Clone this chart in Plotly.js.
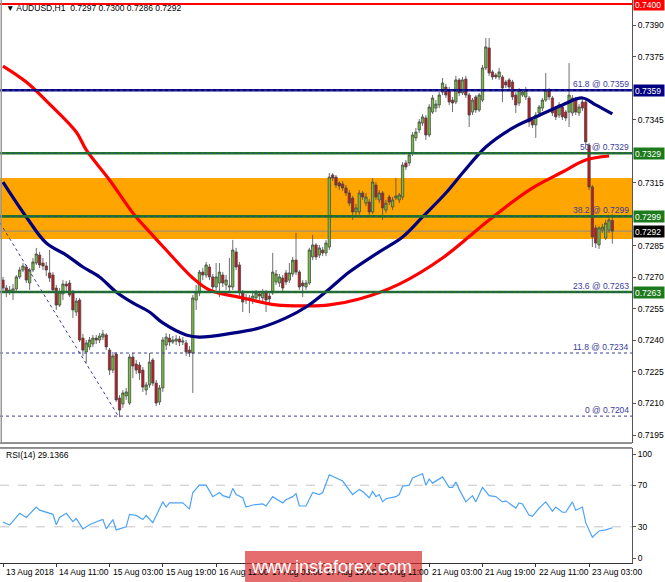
<!DOCTYPE html>
<html><head><meta charset="utf-8">
<script src="https://cdn.plot.ly/plotly-3.0.1.min.js"></script>
<style>html,body{margin:0;padding:0;background:#fff;}#chart{width:665px;height:582px;}</style>
</head><body><div id="chart"></div>
<script>
// ---- Data (AUDUSD H1, 13 Aug 19:00 .. 23 Aug 10:00) ----
const tickIdx  = [0,16,32,48,64,80,96,112,128,144,160,176];
const tickText = ["13 Aug 2018","14 Aug 11:00","15 Aug 03:00","15 Aug 19:00","16 Aug 11:00","17 Aug 03:00","17 Aug 19:00","20 Aug 11:00","21 Aug 03:00","21 Aug 19:00","22 Aug 11:00","23 Aug 03:00"];

const open = [0.72687,0.72649,0.72630,0.72630,0.72645,0.72702,0.72735,0.72749,0.72673,0.72735,0.72768,0.72806,0.72768,0.72754,0.72721,0.72711,0.72649,0.72568,0.72621,0.72668,
0.72673,0.72626,0.72535,0.72592,0.72411,0.72345,0.72369,0.72383,0.72411,0.72402,0.72416,0.72426,0.72354,0.72259,0.72335,0.72126,0.72098,0.72136,0.72102,0.72321,
0.72288,0.72283,0.72259,0.72164,0.72188,0.72307,0.72197,0.72107,0.72174,0.72378,0.72411,0.72392,0.72397,0.72407,0.72392,0.72388,0.72354,0.72340,0.72592,0.72626,
0.72725,0.72711,0.72749,0.72702,0.72654,0.72673,0.72711,0.72664,0.72654,0.72654,0.72821,0.72759,0.72626,0.72592,0.72602,0.72592,0.72602,0.72621,0.72602,0.72626,
0.72611,0.72626,0.72678,0.72673,0.72697,0.72721,0.72687,0.72716,0.72782,0.72725,0.72673,0.72654,0.72673,0.72797,0.72854,0.72806,0.72830,0.72816,0.72844,0.73187,
0.73177,0.73149,0.73144,0.73125,0.73101,0.73077,0.73011,0.73011,0.73101,0.73053,0.73058,0.73011,0.73139,0.73068,0.73101,0.73020,0.73082,0.73035,0.73077,0.73068,
0.73082,0.73244,0.73244,0.73291,0.73363,0.73401,0.73434,0.73458,0.73377,0.73486,0.73505,0.73520,0.73581,0.73605,0.73591,0.73543,0.73534,0.73639,0.73577,0.73643,
0.73567,0.73486,0.73558,0.73496,0.73543,0.73696,0.73791,0.73677,0.73662,0.73653,0.73653,0.73629,0.73639,0.73629,0.73567,0.73529,0.73567,0.73558,0.73553,0.73448,
0.73425,0.73482,0.73505,0.73543,0.73591,0.73553,0.73505,0.73472,0.73510,0.73486,0.73486,0.73482,0.73543,0.73482,0.73534,0.73534,0.73329,0.73130,0.72935,0.72854,
0.72925,0.72887,0.72925,0.72970];
const high = [0.72702,0.72664,0.72659,0.72668,0.72711,0.72749,0.72768,0.72759,0.72744,0.72792,0.72840,0.72821,0.72792,0.72773,0.72830,0.72725,0.72664,0.72649,0.72687,0.72683,
0.72687,0.72640,0.72602,0.72602,0.72431,0.72402,0.72416,0.72426,0.72426,0.72435,0.72450,0.72435,0.72364,0.72345,0.72345,0.72140,0.72164,0.72174,0.72335,0.72340,
0.72307,0.72297,0.72274,0.72202,0.72340,0.72316,0.72212,0.72188,0.72416,0.72435,0.72431,0.72421,0.72426,0.72421,0.72416,0.72402,0.72373,0.72616,0.72664,0.72735,
0.72744,0.72773,0.72763,0.72716,0.72768,0.72768,0.72725,0.72711,0.72792,0.72878,0.72840,0.72773,0.72640,0.72621,0.72616,0.72626,0.72640,0.72635,0.72645,0.72640,
0.72630,0.72816,0.72735,0.72716,0.72711,0.72735,0.72768,0.72797,0.72911,0.72735,0.72687,0.72687,0.72840,0.72901,0.72863,0.72854,0.72844,0.72878,0.73196,0.73196,
0.73187,0.73158,0.73158,0.73139,0.73115,0.73087,0.73049,0.73115,0.73111,0.73101,0.73073,0.73172,0.73153,0.73115,0.73111,0.73068,0.73092,0.73082,0.73172,0.73101,
0.73248,0.73258,0.73296,0.73391,0.73410,0.73453,0.73477,0.73472,0.73524,0.73567,0.73543,0.73581,0.73648,0.73620,0.73605,0.73558,0.73658,0.73648,0.73653,0.73658,
0.73577,0.73553,0.73567,0.73577,0.73710,0.73838,0.73838,0.73686,0.73672,0.73696,0.73662,0.73639,0.73648,0.73639,0.73581,0.73600,0.73591,0.73605,0.73562,0.73458,
0.73486,0.73520,0.73553,0.73672,0.73600,0.73562,0.73515,0.73534,0.73524,0.73496,0.73719,0.73567,0.73558,0.73524,0.73548,0.73543,0.73339,0.73139,0.72949,0.72944,
0.72954,0.72973,0.72997,0.73000];
const low = [0.72630,0.72606,0.72616,0.72592,0.72635,0.72692,0.72725,0.72673,0.72640,0.72725,0.72759,0.72744,0.72735,0.72706,0.72678,0.72626,0.72545,0.72559,0.72592,0.72635,
0.72606,0.72507,0.72516,0.72392,0.72326,0.72293,0.72354,0.72369,0.72383,0.72388,0.72402,0.72354,0.72236,0.72245,0.72107,0.72036,0.72079,0.72117,0.72093,0.72221,
0.72240,0.72212,0.72155,0.72140,0.72174,0.72183,0.72088,0.72093,0.72155,0.72354,0.72373,0.72383,0.72378,0.72373,0.72378,0.72326,0.72321,0.72150,0.72545,0.72611,
0.72687,0.72697,0.72687,0.72630,0.72640,0.72606,0.72654,0.72640,0.72630,0.72640,0.72735,0.72611,0.72535,0.72573,0.72530,0.72573,0.72592,0.72592,0.72587,0.72535,
0.72578,0.72616,0.72664,0.72654,0.72635,0.72664,0.72673,0.72702,0.72711,0.72640,0.72606,0.72640,0.72664,0.72782,0.72782,0.72792,0.72801,0.72801,0.72830,0.73158,
0.73125,0.73115,0.73111,0.73087,0.73039,0.72973,0.72997,0.72997,0.73068,0.73039,0.72997,0.73001,0.73068,0.73053,0.72973,0.73006,0.73044,0.73020,0.73068,0.73053,
0.73068,0.73211,0.73230,0.73277,0.73348,0.73386,0.73420,0.73353,0.73367,0.73477,0.73486,0.73505,0.73567,0.73553,0.73520,0.73486,0.73524,0.73562,0.73567,0.73553,
0.73415,0.73472,0.73482,0.73486,0.73534,0.73686,0.73658,0.73639,0.73643,0.73639,0.73534,0.73600,0.73591,0.73543,0.73482,0.73515,0.73558,0.73543,0.73415,0.73410,
0.73363,0.73467,0.73491,0.73534,0.73543,0.73467,0.73448,0.73458,0.73448,0.73444,0.73415,0.73467,0.73472,0.73467,0.73491,0.73329,0.73115,0.72844,0.72840,0.72835,
0.72911,0.72878,0.72911,0.72860];
const close = [0.72649,0.72630,0.72640,0.72645,0.72702,0.72735,0.72754,0.72687,0.72735,0.72773,0.72811,0.72759,0.72754,0.72735,0.72697,0.72640,0.72568,0.72630,0.72668,0.72659,
0.72616,0.72545,0.72587,0.72402,0.72354,0.72388,0.72402,0.72411,0.72402,0.72421,0.72431,0.72369,0.72259,0.72326,0.72117,0.72069,0.72150,0.72155,0.72321,0.72278,
0.72259,0.72245,0.72178,0.72188,0.72297,0.72197,0.72102,0.72174,0.72402,0.72416,0.72392,0.72402,0.72407,0.72392,0.72397,0.72345,0.72340,0.72602,0.72630,0.72725,
0.72711,0.72759,0.72702,0.72654,0.72702,0.72725,0.72673,0.72687,0.72659,0.72830,0.72749,0.72626,0.72583,0.72602,0.72592,0.72611,0.72626,0.72611,0.72630,0.72592,
0.72597,0.72725,0.72716,0.72702,0.72649,0.72678,0.72721,0.72782,0.72725,0.72654,0.72659,0.72673,0.72830,0.72854,0.72797,0.72840,0.72816,0.72863,0.73177,0.73172,
0.73139,0.73134,0.73125,0.73101,0.73053,0.73011,0.73030,0.73101,0.73082,0.73082,0.73011,0.73153,0.73082,0.73101,0.73030,0.73053,0.73058,0.73068,0.73087,0.73092,
0.73234,0.73225,0.73282,0.73377,0.73391,0.73439,0.73463,0.73377,0.73510,0.73553,0.73524,0.73567,0.73624,0.73567,0.73534,0.73529,0.73639,0.73577,0.73639,0.73567,
0.73472,0.73543,0.73496,0.73567,0.73696,0.73796,0.73672,0.73653,0.73653,0.73677,0.73600,0.73615,0.73605,0.73558,0.73520,0.73591,0.73581,0.73591,0.73439,0.73425,
0.73472,0.73510,0.73543,0.73591,0.73558,0.73482,0.73463,0.73520,0.73463,0.73458,0.73567,0.73553,0.73486,0.73510,0.73505,0.73344,0.73130,0.72892,0.72863,0.72935,
0.72939,0.72958,0.72973,0.72920];

// moving averages (bar index, price)
const maRedX  = [0,7,14,22,25,32,39,44,49,57,62,72,82,92,98,107,119,132,146,158,168,175,182];
const maRedY  = [0.73705,0.73629,0.73524,0.73391,0.73306,0.73163,0.73006,0.72916,0.72830,0.72697,0.72640,0.72602,0.72569,0.72564,0.72569,0.72597,0.72668,0.72792,0.72973,0.73115,0.73201,0.73258,0.73277];
const maBlueX = [0,7,13,19,24,29,34,39,44,48,55,59,69,77,85,91,98,104,113,120,126,133,138,145,153,160,168,174,178,183];
const maBlueY = [0.73153,0.72987,0.72863,0.72806,0.72749,0.72702,0.72630,0.72578,0.72535,0.72483,0.72426,0.72416,0.72435,0.72459,0.72507,0.72559,0.72645,0.72725,0.72821,0.72892,0.72987,0.73101,0.73196,0.73320,0.73410,0.73463,0.73520,0.73553,0.73520,0.73477];

// RSI(14) (bar index, value)
const rsiX = [0,2,5,7,10,11,15,16,17,19,21,22,24,26,29,30,31,33,34,37,38,40,42,43,45,48,49,50,54,56,57,59,61,63,65,66,68,69,70,72,73,75,78,79,81,84,85,87,88,89,91,93,95,96,98,102,105,107,108,110,111,112,113,114,115,118,119,120,122,123,126,127,128,129,132,134,135,136,137,139,141,142,144,146,148,150,151,154,155,156,158,159,161,163,165,166,168,169,171,172,174,175,177,179,181,182,183];
const rsiV = [34.6,31.7,43,39,49,46,42,32,39,43,35,38,28,32,36,37,28,37,27,30,42,41,37,41,34,54,49,53,53,47,63,70,70,59,63,60,58,67,61,58,49,51,52,50,59,53,56,59,62,50,50,63,61,63,80,74,61,66,64,58,64,59,61,54,57,59,61,69,70,77,81,70,76,72,78,68,68,73,66,54,60,54,68,60,59,54,55,48,53,52,41,40,48,54,45,49,44,44,54,46,49,34,20,26,27,28,29.14];

// levels
const fibLevels = ["0","11.8","23.6","38.2","50","61.8"];
const fibPrices = [0.7204,0.7234,0.7263,0.7299,0.7329,0.7359];
const fibTrendX = [-0.9,34.6];
const fibTrendY = [0.72959,0.72041];
const greenLevels = [0.7329,0.7299,0.7263];
const blueLevel = 0.7359;
const redLevel = 0.7400;
const bidPrice = 0.7292;
const zone = [0.72882,0.73172];
const priceTicks = [0.7195,0.7210,0.7225,0.7240,0.7255,0.7270,0.7285,0.7315,0.7345,0.7375,0.7390];
const rsiTicks = [0,30,70,100];
const rsiLevels = [30,70];
const header = "AUDUSD,H1  0.7297 0.7300 0.7286 0.7292";
const rsiLabel = "RSI(14) 29.1366";

// ---- chart ----
const FONT = "'Liberation Sans', Arial, sans-serif";
const idx = open.map((_, i) => i);
const NAVY = "#000080", GREEN = "#1c7a1c", FIB = "#3c3c9a";

const traces = [
  {type:"scatter", mode:"lines", x:fibTrendX, y:fibTrendY, line:{color:FIB, width:1, dash:"dot"}, hoverinfo:"skip", xaxis:"x", yaxis:"y"},
  {type:"candlestick", x:idx, open:open, high:high, low:low, close:close, xaxis:"x", yaxis:"y",
   increasing:{line:{color:"#4a4a4a", width:0.8}, fillcolor:"#72c23c"},
   decreasing:{line:{color:"#4a4a4a", width:0.8}, fillcolor:"#c8141c"},
   whiskerwidth:0, hoverinfo:"skip"},
  {type:"scatter", mode:"lines", x:maRedX, y:maRedY, line:{color:"#ff0000", width:3.2, shape:"spline", smoothing:1}, hoverinfo:"skip", xaxis:"x", yaxis:"y"},
  {type:"scatter", mode:"lines", x:maBlueX, y:maBlueY, line:{color:NAVY, width:3.2, shape:"spline", smoothing:1}, hoverinfo:"skip", xaxis:"x", yaxis:"y"},
  {type:"scatter", mode:"lines", x:rsiX, y:rsiV, line:{color:"#4da3f7", width:1.2}, hoverinfo:"skip", xaxis:"x", yaxis:"y2"}
];

const hline = (y, color, width, dash, layer, yref) => ({type:"line", xref:"paper", x0:0, x1:1, yref:yref||"y", y0:y, y1:y, line:{color:color, width:width, dash:dash||"solid"}, layer:layer||"above"});

const shapes = [];
shapes.push({type:"rect", xref:"paper", x0:0, x1:1, yref:"y", y0:zone[0], y1:zone[1], fillcolor:"#FFA500", line:{width:0}, layer:"below"});
shapes.push(hline(bidPrice, "#8a8a8a", 1, "solid", "below"));
greenLevels.forEach(p => shapes.push(hline(p, GREEN, 2.6)));
shapes.push(hline(blueLevel, NAVY, 2.6));
fibPrices.forEach(p => shapes.push(hline(p, FIB, 1, "dot")));
shapes.push(hline(redLevel, "#ff0000", 2));
rsiLevels.forEach(v => shapes.push(hline(v, "#c4c4c4", 1, "dash", "below", "y2")));
// panel frames
shapes.push({type:"line", xref:"paper", yref:"paper", x0:0, x1:1, y0:0.2131, y1:0.2131, line:{color:"#222", width:1}});
shapes.push({type:"line", xref:"paper", yref:"paper", x0:0, x1:1, y0:0.2043, y1:0.2043, line:{color:"#222", width:1}});
shapes.push({type:"line", xref:"paper", yref:"paper", x0:0.002, x1:0.002, y0:0.2131, y1:1, line:{color:"#999", width:1.5}});
// watermark
shapes.push({type:"rect", xref:"paper", yref:"paper", x0:0.3877, x1:0.6677, y0:-0.04, y1:0.0213, fillcolor:"rgba(216,40,40,0.68)", line:{width:0}, layer:"above"});

const ann = [];
ann.push({xref:"paper", yref:"paper", x:0.006, y:0.985, xanchor:"left", yanchor:"middle", showarrow:false, text:"▼ " + header, font:{family:FONT, size:8.5, color:"#000"}});
ann.push({xref:"paper", yref:"paper", x:0.006, y:0.192, xanchor:"left", yanchor:"middle", showarrow:false, text:rsiLabel, font:{family:FONT, size:8.5, color:"#000"}});
fibPrices.forEach((p, k) => ann.push({xref:"paper", yref:"y", x:0.998, y:p, xanchor:"right", yanchor:"bottom", yshift:-1, showarrow:false,
  text:fibLevels[k] + " @ " + p.toFixed(4), font:{family:FONT, size:8.5, color:FIB}}));
const box = (p, bg) => ({xref:"paper", yref:"y", x:1, y:p, xanchor:"left", yanchor:"middle", xshift:1, showarrow:false,
  text:p.toFixed(4), bgcolor:bg, borderpad:1, width:28, height:9, align:"left", font:{family:FONT, size:8.5, color:"#fff"}});
ann.push(box(redLevel, "#ff0000"));
ann.push(box(blueLevel, NAVY));
greenLevels.forEach(p => ann.push(box(p, GREEN)));
ann.push(box(bidPrice, "#000"));
tickIdx.forEach((t, k) => ann.push({xref:"x", yref:"paper", x:t, y:-0.016, xanchor:"left", yanchor:"middle", xshift:1, showarrow:false,
  text:tickText[k], font:{family:FONT, size:8.5, color:"#000"}}));
ann.push({xref:"paper", yref:"paper", x:0.524, y:-0.0075, xanchor:"center", yanchor:"middle", showarrow:false,
  text:"www.instaforex.com", font:{family:FONT, size:18, color:"#fff"}});

const layout = {
  width:665, height:582, margin:{l:0, r:33, t:0, b:19},
  paper_bgcolor:"#fff", plot_bgcolor:"#fff", showlegend:false,
  boxgap:0.3, boxgroupgap:0,
  xaxis:{domain:[0,1], range:[-0.9,188.9], anchor:"y2", showgrid:false, zeroline:false, showline:true, linecolor:"#333", linewidth:1,
         ticks:"outside", ticklen:3, tickcolor:"#333", tickvals:tickIdx, showticklabels:false, rangeslider:{visible:false}, fixedrange:true},
  yaxis:{domain:[0.2131,1], range:[0.71912,0.74019], side:"right", anchor:"x", showgrid:false, zeroline:false, showline:true, linecolor:"#555", linewidth:1,
         ticks:"outside", ticklen:3, tickcolor:"#555", tickvals:priceTicks, ticktext:priceTicks.map(v => v.toFixed(4)),
         tickfont:{family:FONT, size:8.5, color:"#000"}},
  yaxis2:{domain:[0,0.2043], range:[-4.8,105.8], side:"right", anchor:"x", showgrid:false, zeroline:false, showline:true, linecolor:"#555", linewidth:1,
         ticks:"outside", ticklen:3, tickcolor:"#555", tickvals:rsiTicks, tickfont:{family:FONT, size:8.5, color:"#000"}},
  shapes:shapes, annotations:ann
};
Plotly.newPlot("chart", traces, layout, {displayModeBar:false, staticPlot:true});
</script></body></html>
